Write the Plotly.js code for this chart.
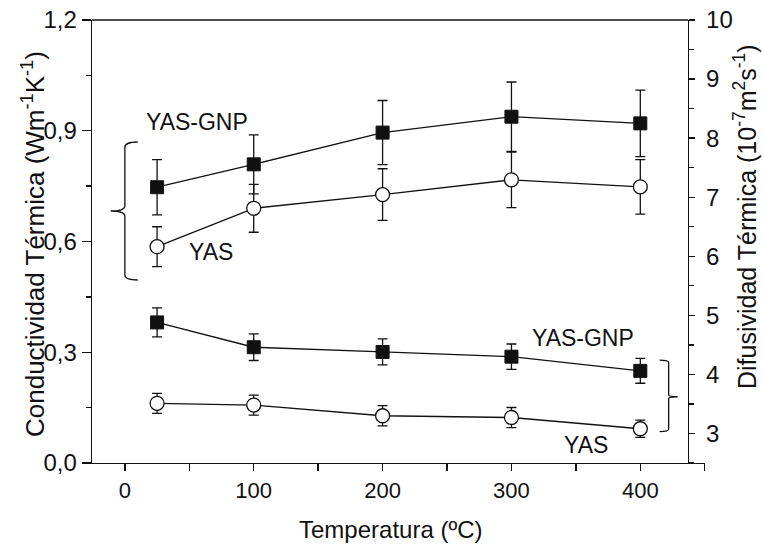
<!DOCTYPE html>
<html>
<head>
<meta charset="utf-8">
<script src="https://cdn.plot.ly/plotly-3.0.1.min.js"></script>
<style>html,body{margin:0;padding:0;background:#fff}</style>
</head>
<body>
<div id="chart" style="width:764px;height:555px"></div>
<script>
// Temperature (ºC)
const temperatures = [25, 100, 200, 300, 400];
// Thermal conductivity (W m-1 K-1), left axis
const condGNP = [0.747, 0.809, 0.895, 0.938, 0.920];
const condGNPErr = [0.075, 0.080, 0.087, 0.094, 0.090];
const condYAS = [0.586, 0.690, 0.727, 0.767, 0.748];
const condYASErr = [0.054, 0.065, 0.070, 0.075, 0.074];
// Thermal diffusivity (10-7 m2 s-1), right axis
const diffGNP = [4.88, 4.46, 4.38, 4.30, 4.06];
const diffGNPErr = [0.245, 0.225, 0.220, 0.215, 0.210];
const diffYAS = [3.51, 3.48, 3.30, 3.27, 3.08];
const diffYASErr = [0.17, 0.17, 0.17, 0.17, 0.145];
// Labels
const seriesNames = ['YAS-GNP', 'YAS'];
const xTitle = 'Temperatura (ºC)';
const yTitle = 'Conductividad Térmica (Wm<sup>-1</sup>K<sup>-1</sup>)';
const y2Title = 'Difusividad Térmica (10<sup>-7</sup>m<sup>2</sup>s<sup>-1</sup>)';

const INK = '#111';
const FONT = '"Liberation Sans", Arial, sans-serif';

function errBar(arr) {
  return {type: 'data', array: arr, visible: true, color: INK, thickness: 1.3, width: 5};
}
const lineStyle = {color: INK, width: 1.3};
const squareMarker = {symbol: 'square', size: 13, color: INK, line: {color: INK, width: 1}};
const circleMarker = {symbol: 'circle', size: 14, color: '#fff', line: {color: INK, width: 1.3}};

const traces = [
  {x: temperatures, y: condGNP, error_y: errBar(condGNPErr), mode: 'lines+markers', name: seriesNames[0],
   line: lineStyle, marker: squareMarker, yaxis: 'y', cliponaxis: false},
  {x: temperatures, y: condYAS, error_y: errBar(condYASErr), mode: 'lines+markers', name: seriesNames[1],
   line: lineStyle, marker: circleMarker, yaxis: 'y', cliponaxis: false},
  {x: temperatures, y: diffGNP, error_y: errBar(diffGNPErr), mode: 'lines+markers', name: seriesNames[0],
   line: lineStyle, marker: squareMarker, yaxis: 'y2', cliponaxis: false},
  {x: temperatures, y: diffYAS, error_y: errBar(diffYASErr), mode: 'lines+markers', name: seriesNames[1],
   line: lineStyle, marker: circleMarker, yaxis: 'y2', cliponaxis: false}
];

const rightPos = 0.9723;

const layout = {
  width: 764, height: 555,
  margin: {l: 92, r: 59, t: 20, b: 92, pad: 0},
  paper_bgcolor: '#fff', plot_bgcolor: '#fff',
  separators: ',.',
  showlegend: false,
  font: {family: FONT, color: INK},
  xaxis: {
    range: [-25.5, 450.2], showgrid: false, zeroline: false,
    showline: true, linecolor: INK, linewidth: 1.3,
    ticks: 'outside', ticklen: 7, tickwidth: 1.3, tickcolor: INK,
    tick0: 0, dtick: 100,
    minor: {ticks: 'outside', dtick: 50, tick0: 0, ticklen: 7, tickwidth: 1.3, tickcolor: INK},
    tickfont: {family: FONT, size: 22, color: INK}
  },
  yaxis: {
    range: [0, 1.2], showgrid: false, zeroline: false,
    showline: true, linecolor: INK, linewidth: 1.3,
    ticks: 'outside', ticklen: 9, tickwidth: 1.3, tickcolor: INK,
    tick0: 0, dtick: 0.3, tickformat: '.1f',
    minor: {ticks: 'outside', dtick: 0.15, tick0: 0, ticklen: 5, tickwidth: 1.3, tickcolor: INK},
    tickfont: {family: FONT, size: 24, color: INK}
  },
  yaxis2: {
    range: [2.5, 10], overlaying: 'y', side: 'right', anchor: 'free', position: rightPos,
    showgrid: false, zeroline: false,
    showline: true, linecolor: INK, linewidth: 1.3,
    ticks: 'outside', ticklen: 6, tickwidth: 1.3, tickcolor: INK,
    tick0: 0, dtick: 1, ticklabelstandoff: 6,
    minor: {ticks: 'outside', dtick: 0.5, tick0: 0, ticklen: 5, tickwidth: 1.3, tickcolor: INK},
    tickfont: {family: FONT, size: 24, color: INK}
  },
  shapes: [
    // top frame line between the two y axes
    {type: 'line', xref: 'paper', yref: 'paper', x0: 0, x1: rightPos, y0: 1, y1: 1,
     line: {color: INK, width: 1.3}},
    // left brace grouping conductivity curves
    {type: 'path', xref: 'x', yref: 'y',
     path: 'M 10,0.8695 Q 0,0.8695 0,0.855 L 0,0.697 Q 0,0.6826 -11,0.6826 Q 0,0.6826 0,0.668 L 0,0.51 Q 0,0.4957 10,0.4957',
     line: {color: INK, width: 1.3}},
    // right brace grouping diffusivity curves
    {type: 'path', xref: 'x', yref: 'y2',
     path: 'M 415,4.243 Q 422,4.243 422,4.2 L 422,3.65 Q 422,3.622 429,3.622 Q 422,3.622 422,3.59 L 422,3.07 Q 422,3.03 415,3.03',
     line: {color: INK, width: 1.3}}
  ],
  annotations: [
    {text: seriesNames[0], xref: 'paper', yref: 'paper', x: (197 - 92) / 613, y: (463 - 122) / 443,
     xanchor: 'center', yanchor: 'middle', showarrow: false, font: {family: FONT, size: 23, color: INK}},
    {text: seriesNames[1], xref: 'paper', yref: 'paper', x: (210.5 - 92) / 613, y: (463 - 251.5) / 443,
     xanchor: 'center', yanchor: 'middle', showarrow: false, font: {family: FONT, size: 23, color: INK}},
    {text: seriesNames[0], xref: 'paper', yref: 'paper', x: (583 - 92) / 613, y: (463 - 338) / 443,
     xanchor: 'center', yanchor: 'middle', showarrow: false, font: {family: FONT, size: 23, color: INK}},
    {text: seriesNames[1], xref: 'paper', yref: 'paper', x: (586 - 92) / 613, y: (463 - 445) / 443,
     xanchor: 'center', yanchor: 'middle', showarrow: false, font: {family: FONT, size: 23, color: INK}},
    {text: xTitle, xref: 'paper', yref: 'paper', x: (390 - 92) / 613, y: (463 - 529) / 443,
     xanchor: 'center', yanchor: 'middle', showarrow: false, font: {family: FONT, size: 24, color: INK}},
    {text: yTitle, xref: 'paper', yref: 'paper', x: (33 - 92) / 613, y: (463 - 244) / 443,
     xanchor: 'center', yanchor: 'middle', textangle: -90, showarrow: false, font: {family: FONT, size: 26, color: INK}},
    {text: y2Title, xref: 'paper', yref: 'paper', x: (745 - 92) / 613, y: (463 - 217) / 443,
     xanchor: 'center', yanchor: 'middle', textangle: -90, showarrow: false, font: {family: FONT, size: 25, color: INK}}
  ]
};

Plotly.newPlot('chart', traces, layout, {staticPlot: true, displayModeBar: false});
</script>
</body>
</html>
